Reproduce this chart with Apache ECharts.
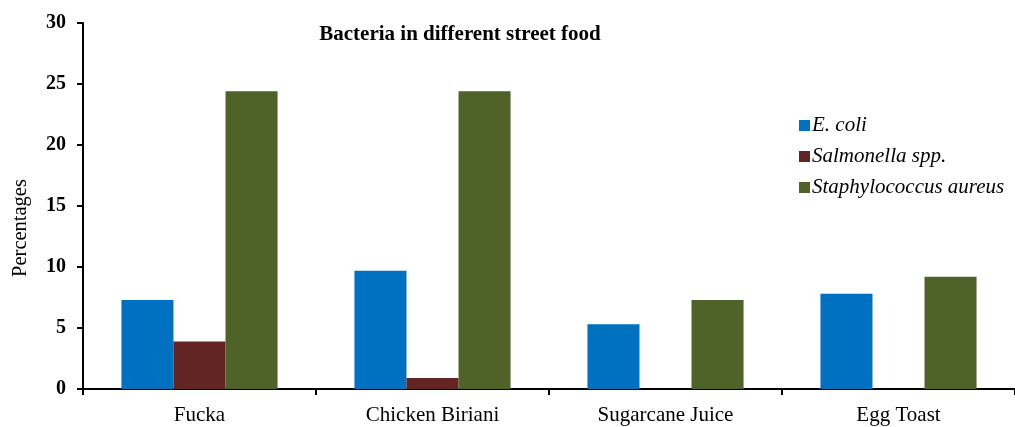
<!DOCTYPE html>
<html>
<head>
<meta charset="utf-8">
<script src="https://cdn.jsdelivr.net/npm/echarts@6/dist/echarts.min.js"></script>
<style>html,body{margin:0;padding:0;background:#fff;}#c{width:1015px;height:427px;}</style>
</head>
<body>
<div id="c"></div>
<script>
const categories = ['Fucka', 'Chicken Biriani', 'Sugarcane Juice', 'Egg Toast'];
const seriesNames = ['E. coli', 'Salmonella spp.', 'Staphylococcus aureus'];
const ecoli = [7.3, 9.7, 5.3, 7.8];
const salmonella = [3.9, 0.9, 0, 0];
const staph = [24.4, 24.4, 7.3, 9.2];
const colors = ['#0070C0', '#632523', '#4F6228'];
const font = 'Liberation Serif, Times New Roman, serif';

const chart = echarts.init(document.getElementById('c'));
const values = [ecoli, salmonella, staph];
chart.setOption({
  animation: false,
  title: {
    text: 'Bacteria in different street food',
    left: 455, top: 19, textAlign: 'center',
    textStyle: { fontFamily: font, fontSize: 21, fontWeight: 'bold', color: '#000' }
  },
  legend: {
    orient: 'vertical', left: 794, top: 110,
    itemWidth: 11, itemHeight: 11, itemGap: 10, icon: 'rect',
    textStyle: { fontFamily: font, fontSize: 21, fontStyle: 'italic', color: '#000', padding: [0, 0, 0, -3] },
    data: seriesNames
  },
  grid: { left: 83, right: -5, top: 23, bottom: 38, containLabel: false },
  xAxis: {
    type: 'category', data: categories,
    axisLine: { lineStyle: { color: '#000', width: 2 } },
    axisTick: { show: true, alignWithLabel: false, length: 6, lineStyle: { color: '#000', width: 2 } },
    axisLabel: { fontFamily: font, fontSize: 21, color: '#000', margin: 16 }
  },
  yAxis: {
    type: 'value', min: 0, max: 30, interval: 5,
    name: 'Percentages', nameLocation: 'middle', nameGap: 52, nameRotate: 90,
    nameTextStyle: { fontFamily: font, fontSize: 20.5, color: '#000', padding: [0, 44, 0, 0] },
    axisLine: { show: true, lineStyle: { color: '#000', width: 2 } },
    axisTick: { show: true, length: 6, lineStyle: { color: '#000', width: 2 } },
    axisLabel: { fontFamily: font, fontSize: 20, fontWeight: 'bold', color: '#000', margin: 17 },
    splitLine: { show: false }
  },
  series: seriesNames.map((n, i) => ({
    name: n, type: 'bar', data: values[i],
    barGap: '0%', barCategoryGap: '33%',
    itemStyle: { color: colors[i] }
  }))
});
</script>
</body>
</html>
